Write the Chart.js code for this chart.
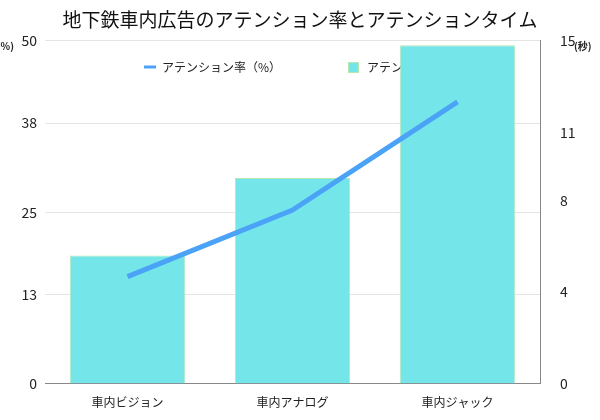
<!DOCTYPE html><html><head><meta charset="utf-8">
<script src="https://cdn.jsdelivr.net/npm/chart.js@4"></script>
<style>body{margin:0;background:#fff}</style></head><body><canvas id="c" width="600" height="420"></canvas>
<script>
const categories=["車内ビジョン","車内アナログ","車内ジャック"];
const rateValues=[15.6,25.3,41.1];
const timeValues=[5.6,9.0,14.8];
const leftTicks=[0,13,25,38,50];
const rightTicks=[0,4,8,11,15];
const F="'Noto Sans CJK JP',sans-serif";
const extras={id:'t',beforeDatasetsDraw(ch){const c=ch.ctx;c.save();c.font="12px "+F;c.fillStyle='#222';c.textBaseline='middle';c.textAlign='left';
c.strokeStyle='#4aa3f7';c.lineWidth=3;c.beginPath();c.moveTo(144,67);c.lineTo(156,67);c.stroke();
c.fillText('アテンション率（%）',162,67);
c.fillStyle='#74e6ea';c.fillRect(348,62,10,10);c.strokeStyle='#b6e7b0';c.lineWidth=1;c.strokeRect(348.5,62.5,10,10);
c.fillStyle='#222';c.fillText('アテンションタイム（秒）',367,67);c.restore();},
afterDraw(ch){const c=ch.ctx;c.save();c.font="bold 10px "+F;c.fillStyle='#222';c.textBaseline='middle';
c.textAlign='right';c.fillText('(%)',14,46);c.textAlign='left';c.fillText('(秒)',574,46);c.restore();}};
new Chart(document.getElementById('c'),{data:{labels:categories,datasets:[
{type:'line',label:'アテンション率（%）',data:rateValues,yAxisID:'y',borderColor:'#4aa3f7',backgroundColor:'#4aa3f7',borderWidth:5,pointRadius:0,order:0},
{type:'bar',label:'アテンションタイム（秒）',data:timeValues,yAxisID:'y1',backgroundColor:'#74e6ea',borderColor:'#b6e7b0',borderWidth:1,categoryPercentage:0.7,barPercentage:1,order:1}]},
plugins:[extras],
options:{responsive:false,animation:false,devicePixelRatio:1,layout:{padding:{left:0,right:0,top:0,bottom:6}},
plugins:{title:{display:true,text:'地下鉄車内広告のアテンション率とアテンションタイム',font:{family:F,size:19,weight:'normal'},color:'#111',padding:{top:8,bottom:10}},
legend:{display:false},tooltip:{enabled:false}},
scales:{x:{grid:{display:false},border:{color:'#888'},ticks:{font:{family:F,size:12},color:'#222',maxRotation:0,padding:4}},
y:{position:'left',min:0,max:50,afterFit(a){a.width=45},afterBuildTicks(a){a.ticks=leftTicks.map(v=>({value:v}))},grid:{color:'#e4e4e4',drawTicks:false},border:{display:false},ticks:{font:{family:F,size:14},color:'#222',padding:8}},
y1:{position:'right',min:0,max:15,afterFit(a){a.width=60},afterBuildTicks(a){a.ticks=rightTicks.map(v=>({value:v}))},grid:{display:false},border:{color:'#888'},ticks:{font:{family:F,size:14},color:'#222',padding:12}}}}});
</script></body></html>
